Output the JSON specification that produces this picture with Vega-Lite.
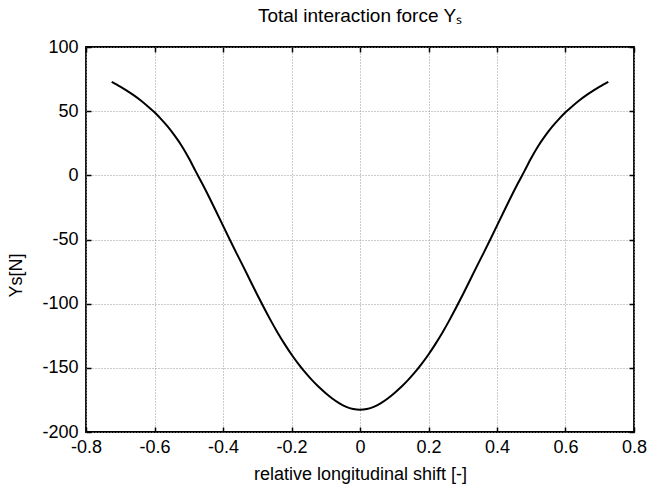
{
  "$schema": "https://vega.github.io/schema/vega-lite/v6.json",
  "width": 548,
  "height": 385,
  "autosize": {"type": "none"},
  "padding": {"left": 86, "top": 47, "right": 17, "bottom": 58},
  "background": "white",
  "config": {
    "font": "Liberation Sans",
    "view": {"stroke": "black", "strokeWidth": 1.8},
    "axis": {
      "labelFont": "Liberation Sans",
      "titleFont": "Liberation Sans",
      "labelColor": "black",
      "titleColor": "black",
      "labelFontSize": 18,
      "titleFontSize": 18,
      "titleFontWeight": "normal",
      "tickColor": "black",
      "domain": false
    }
  },
  "title": {
    "text": "Total interaction force Yₛ",
    "font": "Liberation Sans",
    "fontSize": 19,
    "fontWeight": "normal",
    "color": "black",
    "anchor": "middle",
    "offset": 12
  },
  "data": {
    "values": [
      {"x": -0.725, "y": 72.8},
      {"x": -0.70, "y": 69.1},
      {"x": -0.68, "y": 65.8},
      {"x": -0.66, "y": 62.3},
      {"x": -0.64, "y": 58.3},
      {"x": -0.62, "y": 53.9},
      {"x": -0.60, "y": 49.1},
      {"x": -0.58, "y": 43.6},
      {"x": -0.56, "y": 37.5},
      {"x": -0.54, "y": 30.5},
      {"x": -0.52, "y": 22.7},
      {"x": -0.50, "y": 13.5},
      {"x": -0.48, "y": 3.3},
      {"x": -0.46, "y": -6.8},
      {"x": -0.44, "y": -17.3},
      {"x": -0.42, "y": -28.2},
      {"x": -0.40, "y": -39.2},
      {"x": -0.38, "y": -50.2},
      {"x": -0.36, "y": -61.0},
      {"x": -0.34, "y": -71.5},
      {"x": -0.32, "y": -82.3},
      {"x": -0.30, "y": -93.0},
      {"x": -0.28, "y": -103.4},
      {"x": -0.26, "y": -113.4},
      {"x": -0.24, "y": -122.8},
      {"x": -0.22, "y": -131.5},
      {"x": -0.20, "y": -139.6},
      {"x": -0.18, "y": -146.9},
      {"x": -0.16, "y": -153.6},
      {"x": -0.14, "y": -159.6},
      {"x": -0.12, "y": -165.0},
      {"x": -0.10, "y": -169.8},
      {"x": -0.08, "y": -174.1},
      {"x": -0.06, "y": -177.7},
      {"x": -0.04, "y": -180.4},
      {"x": -0.02, "y": -182.0},
      {"x": 0.0, "y": -182.6},
      {"x": 0.02, "y": -182.0},
      {"x": 0.04, "y": -180.4},
      {"x": 0.06, "y": -177.7},
      {"x": 0.08, "y": -174.1},
      {"x": 0.10, "y": -169.8},
      {"x": 0.12, "y": -165.0},
      {"x": 0.14, "y": -159.6},
      {"x": 0.16, "y": -153.6},
      {"x": 0.18, "y": -146.9},
      {"x": 0.20, "y": -139.6},
      {"x": 0.22, "y": -131.5},
      {"x": 0.24, "y": -122.8},
      {"x": 0.26, "y": -113.4},
      {"x": 0.28, "y": -103.4},
      {"x": 0.30, "y": -93.0},
      {"x": 0.32, "y": -82.3},
      {"x": 0.34, "y": -71.5},
      {"x": 0.36, "y": -61.0},
      {"x": 0.38, "y": -50.2},
      {"x": 0.40, "y": -39.2},
      {"x": 0.42, "y": -28.2},
      {"x": 0.44, "y": -17.3},
      {"x": 0.46, "y": -6.8},
      {"x": 0.48, "y": 3.3},
      {"x": 0.50, "y": 13.5},
      {"x": 0.52, "y": 22.7},
      {"x": 0.54, "y": 30.5},
      {"x": 0.56, "y": 37.5},
      {"x": 0.58, "y": 43.6},
      {"x": 0.60, "y": 49.1},
      {"x": 0.62, "y": 53.9},
      {"x": 0.64, "y": 58.3},
      {"x": 0.66, "y": 62.3},
      {"x": 0.68, "y": 65.8},
      {"x": 0.70, "y": 69.1},
      {"x": 0.725, "y": 72.8}
    ]
  },
  "layer": [
    {
      "mark": {"type": "line", "color": "black", "strokeWidth": 2, "interpolate": "natural"},
      "encoding": {
        "x": {
          "field": "x", "type": "quantitative",
          "scale": {"domain": [-0.8, 0.8], "nice": false, "zero": false},
          "axis": {
            "orient": "bottom",
            "values": [-0.8, -0.6, -0.4, -0.2, 0, 0.2, 0.4, 0.6, 0.8],
            "format": "~g",
            "labelExpr": "replace(datum.label, '\u2212', '-')",
            "title": "relative longitudinal shift [-]",
            "titlePadding": 9,
            "labelPadding": 11,
            "tickSize": -5,
            "tickWidth": 1.5,
            "grid": true,
            "gridColor": "#999999",
            "gridDash": [1, 2],
            "gridWidth": 1,
            "labelFlush": false
          }
        },
        "y": {
          "field": "y", "type": "quantitative",
          "scale": {"domain": [-200, 100], "nice": false, "zero": false},
          "axis": {
            "orient": "left",
            "values": [-200, -150, -100, -50, 0, 50, 100],
            "labelExpr": "replace(datum.label, '\u2212', '-')",
            "title": "Ys[N]",
            "titleX": -65,
            "titleY": 228,
            "titleBaseline": "alphabetic",
            "titleAngle": -90,
            "titleAlign": "center",
            "labelPadding": 13,
            "tickSize": -5,
            "tickWidth": 1.5,
            "grid": true,
            "gridColor": "#999999",
            "gridDash": [1, 2],
            "gridWidth": 1,
            "labelFlush": false
          }
        }
      }
    },
    {
      "mark": {"type": "line", "opacity": 0},
      "encoding": {
        "x": {
          "field": "x", "type": "quantitative",
          "axis": {
            "orient": "top",
            "values": [-0.8, -0.6, -0.4, -0.2, 0, 0.2, 0.4, 0.6, 0.8],
            "labels": false, "title": null, "grid": false,
            "tickSize": -5, "tickWidth": 1.5
          }
        },
        "y": {
          "field": "y", "type": "quantitative",
          "axis": {
            "orient": "right",
            "values": [-200, -150, -100, -50, 0, 50, 100],
            "labels": false, "title": null, "grid": false,
            "tickSize": -5, "tickWidth": 1.5
          }
        }
      }
    }
  ],
  "resolve": {"axis": {"x": "independent", "y": "independent"}}
}
